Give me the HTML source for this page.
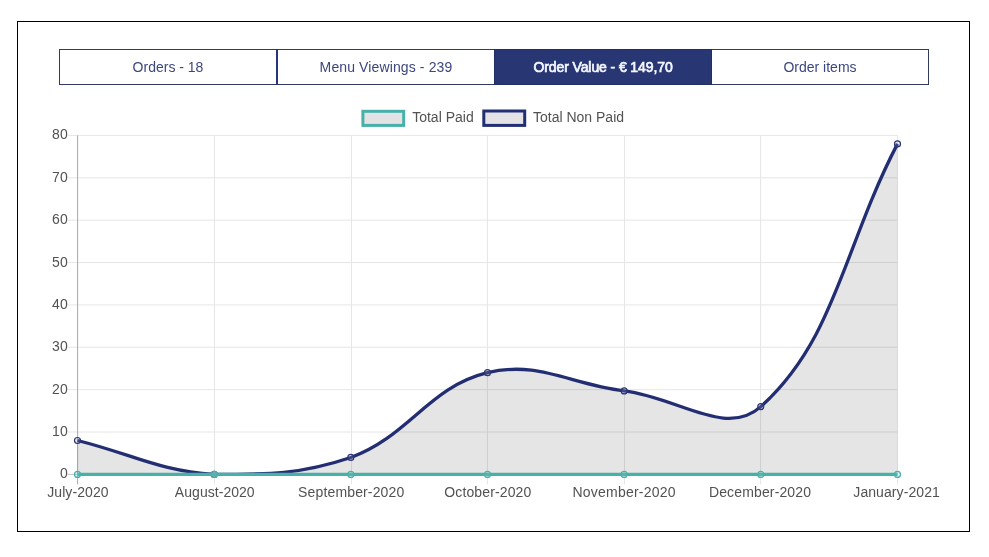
<!DOCTYPE html>
<html lang="en">
<head>
<meta charset="utf-8">
<title>Order Value chart</title>
<style>
html,body{margin:0;padding:0;background:#fff;}
body{width:989px;height:557px;position:relative;overflow:hidden;font-family:"Liberation Sans",Arial,sans-serif;}
.frame{position:absolute;left:17px;top:21px;width:951px;height:509px;border:1px solid #000;}
.tab{position:absolute;top:49px;height:36px;box-sizing:border-box;border:1px solid #333a62;color:#3c477e;font-size:14px;line-height:34px;text-align:center;background:#fff;white-space:nowrap;}
.t1{left:59px;width:218px;border-right-color:#27337a;}
.t2{left:277px;width:217px;border-right:0;border-left-color:#27337a;letter-spacing:0.12px;}
.t3{left:494px;width:218px;background:#283774;color:#f4f6ff;font-weight:normal;-webkit-text-stroke:0.7px #f4f6ff;border-color:#222e66;letter-spacing:-0.1px;}
.t4{left:712px;width:217px;border-left:0;}
</style>
</head>
<body>
<div class="frame"></div>
<div class="tab t1">Orders - 18</div>
<div class="tab t2">Menu Viewings - 239</div>
<div class="tab t3">Order Value - &euro; 149,70</div>
<div class="tab t4">Order items</div>
<svg width="989" height="557" viewBox="0 0 989 557" style="position:absolute;left:0;top:0">
<line x1="67.5" y1="474.4" x2="897.5" y2="474.4" stroke="#c2c2c2" stroke-width="1"/>
<line x1="67.5" y1="432.02" x2="897.5" y2="432.02" stroke="#e6e6e6" stroke-width="1"/>
<line x1="67.5" y1="389.65" x2="897.5" y2="389.65" stroke="#e6e6e6" stroke-width="1"/>
<line x1="67.5" y1="347.27" x2="897.5" y2="347.27" stroke="#e6e6e6" stroke-width="1"/>
<line x1="67.5" y1="304.9" x2="897.5" y2="304.9" stroke="#e6e6e6" stroke-width="1"/>
<line x1="67.5" y1="262.52" x2="897.5" y2="262.52" stroke="#e6e6e6" stroke-width="1"/>
<line x1="67.5" y1="220.15" x2="897.5" y2="220.15" stroke="#e6e6e6" stroke-width="1"/>
<line x1="67.5" y1="177.77" x2="897.5" y2="177.77" stroke="#e6e6e6" stroke-width="1"/>
<line x1="67.5" y1="135.4" x2="897.5" y2="135.4" stroke="#e6e6e6" stroke-width="1"/>
<line x1="77.6" y1="135.4" x2="77.6" y2="484.4" stroke="#a8a8a8" stroke-width="1"/>
<line x1="214.5" y1="135.4" x2="214.5" y2="484.4" stroke="#e6e6e6" stroke-width="1"/>
<line x1="351.5" y1="135.4" x2="351.5" y2="484.4" stroke="#e6e6e6" stroke-width="1"/>
<line x1="487.4" y1="135.4" x2="487.4" y2="484.4" stroke="#e6e6e6" stroke-width="1"/>
<line x1="624.5" y1="135.4" x2="624.5" y2="484.4" stroke="#e6e6e6" stroke-width="1"/>
<line x1="760.6" y1="135.4" x2="760.6" y2="484.4" stroke="#e6e6e6" stroke-width="1"/>
<line x1="897.5" y1="135.4" x2="897.5" y2="484.4" stroke="#e6e6e6" stroke-width="1"/>
<path d="M77.5 440.5 C132.17 454.06 158.89 470.97 214.17 474.4 C268.23 474.4 300.4 474.4 350.83 457.45 C409.73 435.54 428.64 387.03 487.5 372.7 C537.97 360.42 569.44 384.13 624.17 390.92 C678.77 397.69 726.16 437.94 760.83 406.6 C835.49 339.12 842.83 248.96 897.5 143.88 L897.5 474.4 L77.5 474.4 Z" fill="rgba(0,0,0,0.1)"/>
<path d="M77.5 440.5 C132.17 454.06 158.89 470.97 214.17 474.4 C268.23 474.4 300.4 474.4 350.83 457.45 C409.73 435.54 428.64 387.03 487.5 372.7 C537.97 360.42 569.44 384.13 624.17 390.92 C678.77 397.69 726.16 437.94 760.83 406.6 C835.49 339.12 842.83 248.96 897.5 143.88" fill="none" stroke="#232e72" stroke-width="3.3" stroke-linecap="butt" stroke-linejoin="miter"/>
<circle cx="77.5" cy="440.5" r="3" fill="rgba(150,155,200,0.22)" stroke="#2b3570" stroke-width="1.2"/>
<circle cx="214.17" cy="474.4" r="3" fill="rgba(150,155,200,0.22)" stroke="#2b3570" stroke-width="1.2"/>
<circle cx="350.83" cy="457.45" r="3" fill="rgba(150,155,200,0.22)" stroke="#2b3570" stroke-width="1.2"/>
<circle cx="487.5" cy="372.7" r="3" fill="rgba(150,155,200,0.22)" stroke="#2b3570" stroke-width="1.2"/>
<circle cx="624.17" cy="390.92" r="3" fill="rgba(150,155,200,0.22)" stroke="#2b3570" stroke-width="1.2"/>
<circle cx="760.83" cy="406.6" r="3" fill="rgba(150,155,200,0.22)" stroke="#2b3570" stroke-width="1.2"/>
<circle cx="897.5" cy="143.88" r="3" fill="rgba(150,155,200,0.22)" stroke="#2b3570" stroke-width="1.2"/>
<line x1="77.5" y1="474.4" x2="897.5" y2="474.4" stroke="#47b0a9" stroke-width="3.4"/>
<circle cx="77.5" cy="474.4" r="3" fill="rgba(110,200,192,0.25)" stroke="#47b0a9" stroke-width="1.2"/>
<circle cx="214.17" cy="474.4" r="3" fill="rgba(110,200,192,0.25)" stroke="#47b0a9" stroke-width="1.2"/>
<circle cx="350.83" cy="474.4" r="3" fill="rgba(110,200,192,0.25)" stroke="#47b0a9" stroke-width="1.2"/>
<circle cx="487.5" cy="474.4" r="3" fill="rgba(110,200,192,0.25)" stroke="#47b0a9" stroke-width="1.2"/>
<circle cx="624.17" cy="474.4" r="3" fill="rgba(110,200,192,0.25)" stroke="#47b0a9" stroke-width="1.2"/>
<circle cx="760.83" cy="474.4" r="3" fill="rgba(110,200,192,0.25)" stroke="#47b0a9" stroke-width="1.2"/>
<circle cx="897.5" cy="474.4" r="3" fill="rgba(110,200,192,0.25)" stroke="#47b0a9" stroke-width="1.2"/>
<rect x="362.9" y="111.3" width="40.8" height="14.1" fill="#e3e3e5" stroke="#47b0a9" stroke-width="3"/>
<rect x="483.8" y="111.0" width="40.9" height="14.4" fill="#e3e3e5" stroke="#232f75" stroke-width="3"/>
<g font-family="'Liberation Sans', Arial, sans-serif" font-size="14" fill="#525252">
<text x="412.2" y="121.8">Total Paid</text>
<text x="533" y="121.8">Total Non Paid</text>
<text x="67.7" y="478.4" text-anchor="end">0</text>
<text x="67.7" y="436.02" text-anchor="end">10</text>
<text x="67.7" y="393.65" text-anchor="end">20</text>
<text x="67.7" y="351.27" text-anchor="end">30</text>
<text x="67.7" y="308.9" text-anchor="end">40</text>
<text x="67.7" y="266.52" text-anchor="end">50</text>
<text x="67.7" y="224.15" text-anchor="end">60</text>
<text x="67.7" y="181.77" text-anchor="end">70</text>
<text x="67.7" y="139.4" text-anchor="end">80</text>
<text x="77.94" y="496.8" text-anchor="middle" letter-spacing="0.07">July-2020</text>
<text x="214.79" y="496.8" text-anchor="middle" letter-spacing="0.04">August-2020</text>
<text x="351.26" y="496.8" text-anchor="middle" letter-spacing="0.146">September-2020</text>
<text x="487.86" y="496.8" text-anchor="middle" letter-spacing="0.127">October-2020</text>
<text x="624.13" y="496.8" text-anchor="middle" letter-spacing="0.225">November-2020</text>
<text x="760.05" y="496.8" text-anchor="middle" letter-spacing="0.14">December-2020</text>
<text x="896.59" y="496.8" text-anchor="middle" letter-spacing="0.08">January-2021</text>
</g>
</svg>
</body>
</html>
